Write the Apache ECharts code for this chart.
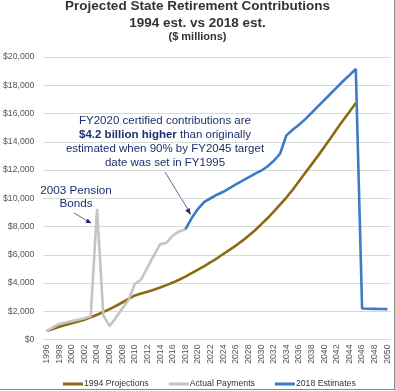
<!DOCTYPE html>
<html>
<head>
<meta charset="utf-8">
<script src="https://cdn.jsdelivr.net/npm/echarts@6/dist/echarts.min.js"></script>
<style>
html,body{margin:0;padding:0;background:#fff;}
#chart{width:395px;height:391px;}
</style>
</head>
<body>
<div id="chart"></div>
<script>
var years = ['1996','1997','1998','1999','2000','2001','2002','2003','2004','2005',
  '2006','2007','2008','2009','2010','2011','2012','2013','2014','2015',
  '2016','2017','2018','2019','2020','2021','2022','2023','2024','2025',
  '2026','2027','2028','2029','2030','2031','2032','2033','2034','2035',
  '2036','2037','2038','2039','2040','2041','2042','2043','2044','2045',
  '2046','2047','2048','2049','2050'];

// 1994 Projections: 1996-2045
var proj1994 = [600,750,900,1030,1150,1270,1400,1570,1750,1950,
  2150,2380,2620,2870,3120,3250,3380,3520,3680,3850,
  4030,4230,4450,4700,4950,5200,5470,5750,6050,6350,
  6650,6980,7350,7720,8150,8580,9050,9550,10050,10600,
  11200,11800,12400,13000,13620,14250,14900,15520,16130,16750];

// Actual Payments: 1996-2018
var actualPayments = [600,850,1100,1200,1300,1400,1500,1650,9250,1700,
  950,1550,2200,2800,3950,4250,5100,5950,6750,6850,
  7350,7650,7800];

// 2018 Estimates: 2018-2050
var est2018 = [7800,8600,9250,9750,10000,10250,10460,10720,10980,11230,
  11480,11720,11950,12250,12650,13150,14450,14850,15200,15600,
  16050,16500,16950,17400,17850,18300,18720,19150,2200,2180,
  2170,2160,2150];

var yTicks = {min: 0, max: 20000, interval: 2000};

function pad(arr, before, total) {
  var out = [];
  for (var i = 0; i < before; i++) out.push(null);
  for (var j = 0; j < arr.length; j++) out.push(arr[j]);
  while (out.length < total) out.push(null);
  return out;
}
var N = years.length;
var idx2018 = years.indexOf('2018');

var navy = '#1F2F6E';
var chart = echarts.init(document.getElementById('chart'), null, {renderer: 'canvas'});
chart.setOption({
  animation: false,
  backgroundColor: '#ffffff',
  title: [{
    text: 'Projected State Retirement Contributions\n1994 est. vs 2018 est.',
    left: 'center', top: -1.5, padding: 0,
    textStyle: {fontFamily: 'Liberation Sans, Arial', fontWeight: 'bold', fontSize: 13.5, lineHeight: 16.4, color: '#333'}
  }, {
    text: '($ millions)',
    left: 'center', top: 31, padding: 0,
    textStyle: {fontFamily: 'Liberation Sans, Arial', fontWeight: 'bold', fontSize: 11, lineHeight: 12, color: '#333'}
  }],
  legend: {
    left: 58, top: 374.5,
    icon: 'rect', itemWidth: 20, itemHeight: 3, itemGap: 20,
    textStyle: {fontFamily: 'Liberation Sans, Arial', fontSize: 8.7, color: '#333', padding: [0,0,0,-4]},
    data: ['1994 Projections', 'Actual Payments', '2018 Estimates']
  },
  grid: {left: 42.3, right: 4.5, top: 57, bottom: 51.5, containLabel: false},
  xAxis: {
    type: 'category', data: years, boundaryGap: true,
    axisLine: {show: true, lineStyle: {color: '#D9D9D9', width: 1}},
    axisTick: {show: false},
    axisLabel: {interval: 1, rotate: 90, fontSize: 8.7, margin: 5, color: '#555', fontFamily: 'Liberation Sans, Arial'},
    splitLine: {show: false}
  },
  yAxis: {
    type: 'value', min: yTicks.min, max: yTicks.max, interval: yTicks.interval,
    axisLine: {show: false}, axisTick: {show: false},
    axisLabel: {fontSize: 8.7, margin: 9, color: '#555', fontFamily: 'Liberation Sans, Arial',
      formatter: function (v) { return '$' + v.toLocaleString('en-US'); }},
    splitLine: {lineStyle: {color: '#D9D9D9', width: 1}}
  },
  series: [{
    name: '1994 Projections', type: 'line', symbol: 'none', connectNulls: false,
    data: pad(proj1994, 0, N),
    lineStyle: {color: '#8C6A12', width: 2.6}, itemStyle: {color: '#8C6A12'}
  }, {
    name: 'Actual Payments', type: 'line', symbol: 'none',
    data: pad(actualPayments, 0, N),
    lineStyle: {color: '#C4C4C4', width: 2.6}, itemStyle: {color: '#C4C4C4'}
  }, {
    name: '2018 Estimates', type: 'line', symbol: 'none',
    data: pad(est2018, idx2018, N),
    lineStyle: {color: '#3C7BC6', width: 2.6}, itemStyle: {color: '#3C7BC6'}
  }],
  graphic: [
    {type: 'line', shape: {x1: 394.5, y1: 0, x2: 394.5, y2: 389.5}, style: {stroke: '#8A8A8A', lineWidth: 1}},
    {type: 'line', shape: {x1: 0, y1: 389.5, x2: 395, y2: 389.5}, style: {stroke: '#8A8A8A', lineWidth: 1}},
    {type: 'rect', shape: {x: 64, y: 115, width: 203, height: 53}, style: {fill: '#fff'}},
    {type: 'text', x: 165, y: 141.5, style: {
      text: '{n|FY2020 certified contributions are}\n{b|$4.2 billion higher}{n| than originally}\n{n|estimated when 90% by FY2045 target}\n{n|date was set in FY1995}',
      textAlign: 'center', textVerticalAlign: 'middle',
      rich: {
        n: {fontFamily: 'Liberation Sans, Arial', fontSize: 11.5, lineHeight: 14, fill: navy, color: navy},
        b: {fontFamily: 'Liberation Sans, Arial', fontSize: 11.5, lineHeight: 14, fontWeight: 'bold', fill: navy, color: navy}
      }
    }},
    {type: 'line', shape: {x1: 165, y1: 172, x2: 189, y2: 211}, style: {stroke: '#5C6C94', lineWidth: 1}},
    {type: 'polygon', shape: {points: [[191, 215], [185.2, 210.6], [189.6, 208]]}, style: {fill: navy}},
    {type: 'rect', shape: {x: 38, y: 184, width: 76, height: 27}, style: {fill: '#fff'}},
    {type: 'text', x: 76, y: 197.5, style: {
      text: '2003 Pension\nBonds', textAlign: 'center', textVerticalAlign: 'middle',
      fontFamily: 'Liberation Sans, Arial', fontSize: 11.7, lineHeight: 13, fill: navy
    }},
    {type: 'line', shape: {x1: 74, y1: 213, x2: 88, y2: 221.3}, style: {stroke: '#5C6C94', lineWidth: 1}},
    {type: 'polygon', shape: {points: [[91.5, 223.3], [85.4, 222.8], [87.8, 218.6]]}, style: {fill: navy}}
  ]
});
</script>
</body>
</html>
